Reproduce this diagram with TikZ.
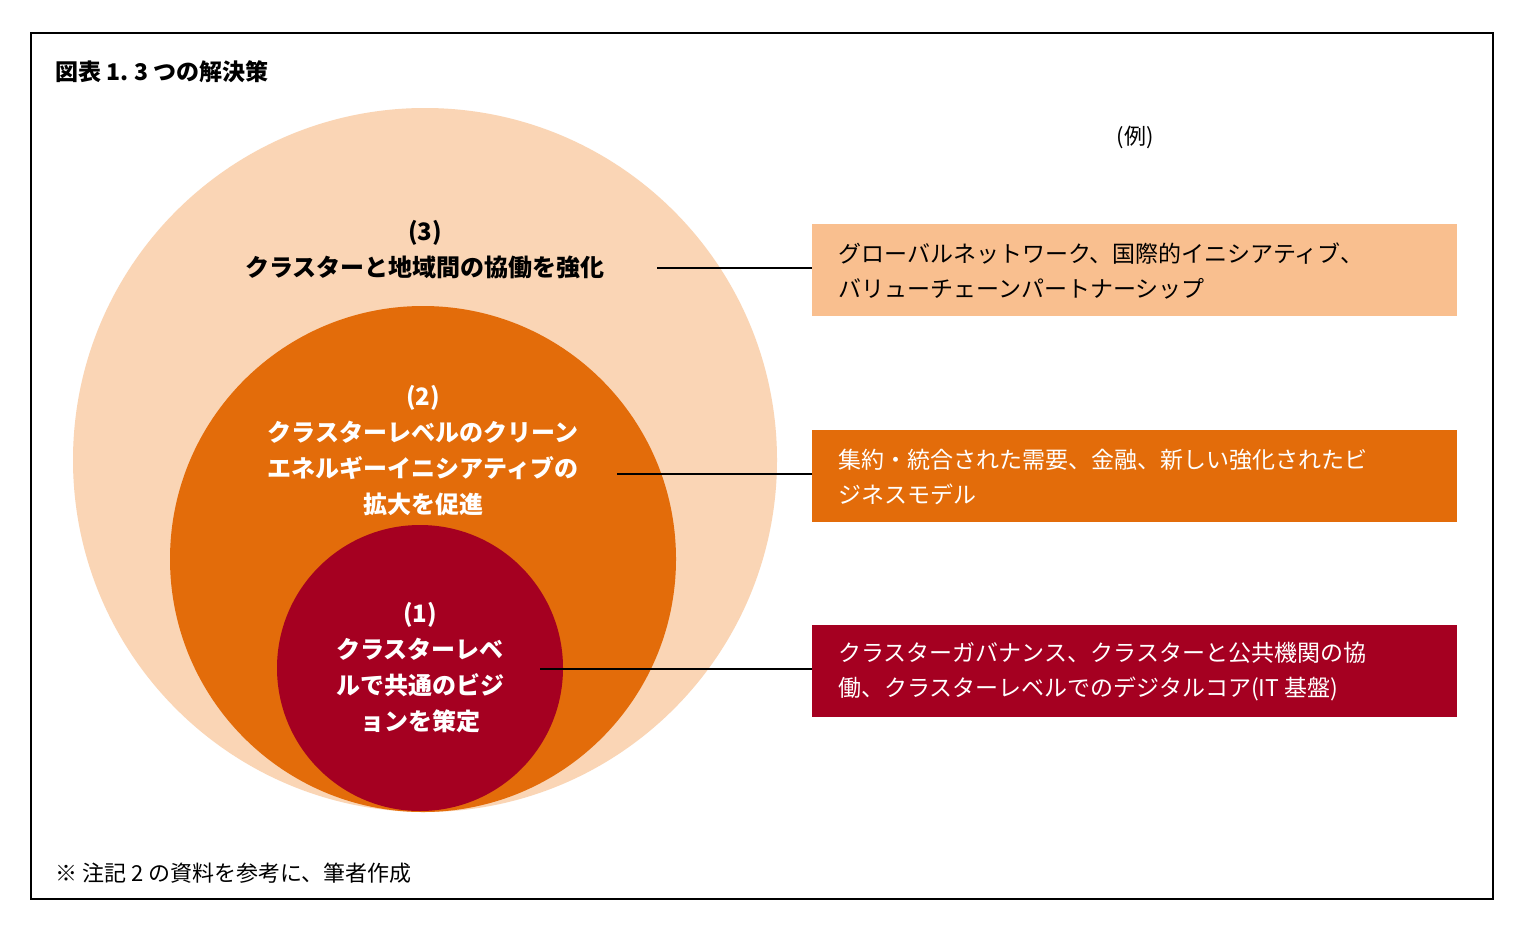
\documentclass[tikz,border=0pt]{standalone}
\usepackage{fontspec}
\setmainfont{Noto Sans CJK JP}
\newfontfamily\jpb{Noto Sans CJK JP Bold}
\definecolor{peachL}{HTML}{FAD5B5}
\definecolor{peachB}{HTML}{F9BF8F}
\definecolor{orangeM}{HTML}{E36C0A}
\definecolor{redD}{HTML}{A50021}
\begin{document}
\begin{tikzpicture}[x=0.5pt,y=-0.5pt,
  lbl/.style={font=\fontsize{12}{18}\selectfont\bfseries, align=center, inner sep=0},
  boxt/.style={font=\fontsize{11.5}{17.5}\selectfont, align=left, anchor=west, inner sep=0},
  conn/.style={line width=1pt}]
\useasboundingbox (0,0) rectangle (1524,937);
\fill[white] (0,0) rectangle (1524,937);
\node[draw, line width=1pt, minimum width=731pt, minimum height=433pt, anchor=north west, inner sep=0] (frame) at (30,32) {};
\node[anchor=west, font=\fontsize{11.5}{14}\selectfont\bfseries, inner sep=0] (title) at (55,72) {図表 1.\ 3 つの解決策};
\node[font=\fontsize{11}{14}\selectfont, inner sep=0] (ex) at (1135,137) {(例)};
\node[anchor=west, font=\fontsize{11}{14}\selectfont, inner sep=0] (note) at (55,873) {※ 注記 2 の資料を参考に、筆者作成};
\fill[peachL] (425,460) circle[radius=352];
\fill[orangeM] (423,559) circle[radius=253];
\fill[redD] (420,668) circle[radius=143];
\node[lbl] (c3) at (425,250) {(3)\\クラスターと地域間の協働を強化};
\node[lbl, text=white] (c2) at (423,451) {(2)\\クラスターレベルのクリーン\\エネルギーイニシアティブの\\拡大を促進};
\node[lbl, text=white] (c1) at (420,668) {(1)\\クラスターレベ\\ルで共通のビジ\\ョンを策定};
\node[fill=peachB, minimum width=322.5pt, minimum height=46pt, anchor=north west, inner sep=0] (b3) at (812,224) {};
\node[fill=orangeM, minimum width=322.5pt, minimum height=46pt, anchor=north west, inner sep=0] (b2) at (812,430) {};
\node[fill=redD, minimum width=322.5pt, minimum height=46pt, anchor=north west, inner sep=0] (b1) at (812,625) {};
\node[boxt] (t3) at (838,271) {グローバルネットワーク、国際的イニシアティブ、\\バリューチェーンパートナーシップ};
\node[boxt, text=white] (t2) at (838,477) {集約・統合された需要、金融、新しい強化されたビ\\ジネスモデル};
\node[boxt, text=white] (t1) at (838,672) {クラスターガバナンス、クラスターと公共機関の協\\働、クラスターレベルでのデジタルコア(IT 基盤)};
\coordinate (s3) at (657,268); \coordinate (s2) at (617,474); \coordinate (s1) at (540,669);
\draw[conn] (s3) -- (b3.west |- s3);
\draw[conn] (s2) -- (b2.west |- s2);
\draw[conn] (s1) -- (b1.west |- s1);
\end{tikzpicture}
\end{document}
